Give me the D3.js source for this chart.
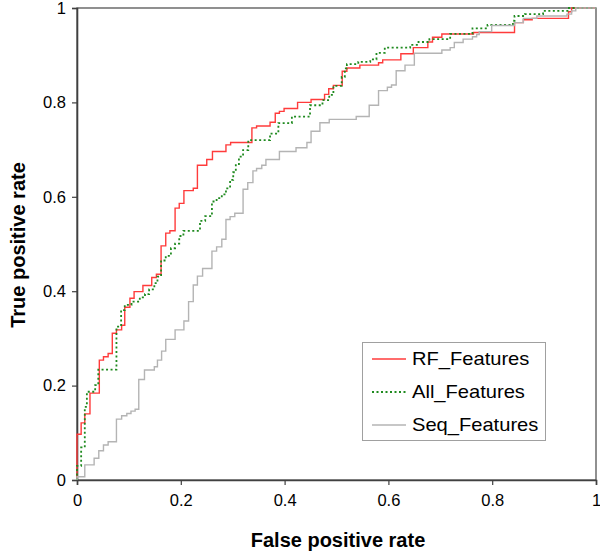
<!DOCTYPE html>
<html><head><meta charset="utf-8">
<script src="https://cdn.jsdelivr.net/npm/d3@7"></script>
<style>body{margin:0;background:#fff}svg{display:block}text{font-family:Arial,"Liberation Sans",sans-serif}</style>
</head><body><svg id="c" width="600" height="556"></svg>
<script>
const seriesNames = ["RF_Features", "All_Features", "Seq_Features"];
const rfFpr = [0,0,0.008,0.015,0.025,0.043,0.051,0.06,0.068,0.076,0.086,0.092,0.102,0.11,0.127,0.144,0.153,0.162,0.171,0.179,0.189,0.197,0.206,0.224,0.232,0.25,0.261,0.287,0.296,0.337,0.346,0.372,0.382,0.39,0.399,0.425,0.451,0.477,0.485,0.494,0.511,0.52,0.545,0.581,0.589,0.624,0.648,0.676,0.685,0.703,0.764,0.843,0.86,0.877,0.947,0.953,1];
const rfTpr = [0,0.097,0.121,0.14,0.184,0.254,0.261,0.268,0.311,0.318,0.328,0.366,0.385,0.399,0.412,0.429,0.436,0.496,0.523,0.528,0.576,0.586,0.613,0.618,0.667,0.679,0.696,0.71,0.715,0.746,0.75,0.758,0.777,0.781,0.787,0.8,0.806,0.817,0.829,0.836,0.866,0.873,0.879,0.884,0.89,0.903,0.916,0.928,0.938,0.945,0.948,0.969,0.975,0.978,0.992,1,1];
const allFpr = [0,0,0.008,0.015,0.019,0.035,0.041,0.076,0.085,0.092,0.105,0.121,0.131,0.139,0.149,0.155,0.162,0.171,0.181,0.189,0.197,0.205,0.237,0.247,0.26,0.269,0.279,0.287,0.295,0.301,0.306,0.312,0.32,0.33,0.372,0.388,0.414,0.449,0.473,0.486,0.494,0.51,0.516,0.52,0.542,0.565,0.577,0.593,0.642,0.658,0.679,0.719,0.762,0.791,0.84,0.843,0.863,0.898,0.945,1];
const allTpr = [0,0.03,0.069,0.155,0.187,0.201,0.234,0.325,0.36,0.371,0.378,0.387,0.394,0.404,0.417,0.431,0.465,0.475,0.491,0.501,0.517,0.528,0.549,0.559,0.59,0.597,0.605,0.618,0.636,0.652,0.667,0.685,0.699,0.72,0.734,0.756,0.77,0.794,0.805,0.816,0.835,0.854,0.872,0.881,0.886,0.891,0.905,0.916,0.922,0.928,0.934,0.945,0.957,0.964,0.973,0.983,0.987,0.994,1,1];
const seqFpr = [0,0,0.015,0.033,0.042,0.051,0.06,0.076,0.086,0.096,0.104,0.112,0.119,0.13,0.149,0.155,0.163,0.171,0.189,0.206,0.215,0.224,0.232,0.242,0.26,0.269,0.279,0.287,0.295,0.304,0.32,0.329,0.339,0.346,0.356,0.364,0.39,0.422,0.443,0.451,0.468,0.486,0.538,0.563,0.581,0.598,0.606,0.615,0.632,0.65,0.703,0.719,0.727,0.744,0.762,0.77,0.775,0.799,0.843,0.86,0.886,0.944,0.953,0.961,1];
const seqTpr = [0,0.007,0.032,0.046,0.062,0.074,0.081,0.129,0.136,0.141,0.146,0.15,0.213,0.233,0.24,0.254,0.273,0.298,0.318,0.337,0.378,0.413,0.432,0.448,0.485,0.494,0.51,0.552,0.558,0.565,0.616,0.63,0.655,0.66,0.667,0.679,0.696,0.704,0.715,0.739,0.757,0.764,0.77,0.794,0.825,0.832,0.837,0.867,0.879,0.904,0.911,0.916,0.927,0.934,0.939,0.944,0.95,0.963,0.969,0.978,0.983,0.987,0.994,1,1];
const xTicks = [0,0.2,0.4,0.6,0.8,1];
const yTicks = [0,0.2,0.4,0.6,0.8,1];

const svg = d3.select("#c");
const L=77,R=596,T=8,B=480;
const x = d3.scaleLinear().domain([0,1]).range([L,R]);
const y = d3.scaleLinear().domain([0,1]).range([B,T]);
const axisColor="#404040";

svg.append("rect").attr("x",L).attr("y",T).attr("width",R-L).attr("height",B-T)
  .attr("fill","none").attr("stroke","#555").attr("stroke-width",1.3);

const fmt = d => d===0||d===1 ? String(d) : d3.format(".1f")(d);
const gx = svg.append("g").attr("transform",`translate(0,${B})`)
  .call(d3.axisBottom(x).tickValues(xTicks).tickFormat(fmt).tickSize(5).tickPadding(9));
const gy = svg.append("g").attr("transform",`translate(${L},0)`)
  .call(d3.axisLeft(y).tickValues(yTicks).tickFormat(fmt).tickSize(5).tickPadding(6));
[gx,gy].forEach(g=>{
  g.select(".domain").attr("stroke",axisColor).attr("stroke-width",1.6);
  g.selectAll(".tick line").attr("stroke",axisColor).attr("stroke-width",1.2);
  g.selectAll("text").attr("font-size",16.5).attr("fill","#000").attr("font-family","Arial, 'Liberation Sans', sans-serif");
});

const series = [
  {name:seriesNames[0], fpr:rfFpr, tpr:rfTpr, color:"#ff3b3b", dash:null, w:1.4},
  {name:seriesNames[1], fpr:allFpr, tpr:allTpr, color:"#1f8a1f", dash:"2,2.5", w:1.8},
  {name:seriesNames[2], fpr:seqFpr, tpr:seqTpr, color:"#b4b4b4", dash:null, w:1.4}
];
const line = d3.line().x(d=>x(d[0])).y(d=>y(d[1])).curve(d3.curveStepAfter);
series.forEach(s=>{
  const pts = s.fpr.map((f,i)=>[f,s.tpr[i]]);
  svg.append("path").datum(pts).attr("d",line).attr("fill","none")
    .attr("stroke",s.color).attr("stroke-width",s.w)
    .attr("stroke-dasharray",s.dash);
});

const lg = svg.append("g");
lg.append("rect").attr("x",362.5).attr("y",342.5).attr("width",183).attr("height",98)
  .attr("fill","#fff").attr("stroke","#a0a0a0").attr("stroke-width",1);
series.forEach((s,i)=>{
  const yy = 359 + i*33;
  lg.append("line").attr("x1",372).attr("x2",406).attr("y1",yy).attr("y2",yy)
    .attr("stroke",s.color).attr("stroke-width",s.w).attr("stroke-dasharray",s.dash);
  lg.append("text").attr("transform",`translate(412,${yy+6}) scale(1.15,1)`)
    .attr("font-size",17.5).text(s.name);
});

svg.append("text").attr("x",338).attr("y",547).attr("text-anchor","middle")
  .attr("font-size",20).attr("font-weight","bold").text("False positive rate");
svg.append("text").attr("transform","translate(25,245) rotate(-90)").attr("text-anchor","middle")
  .attr("font-size",20).attr("font-weight","bold").text("True positive rate");
</script></body></html>
